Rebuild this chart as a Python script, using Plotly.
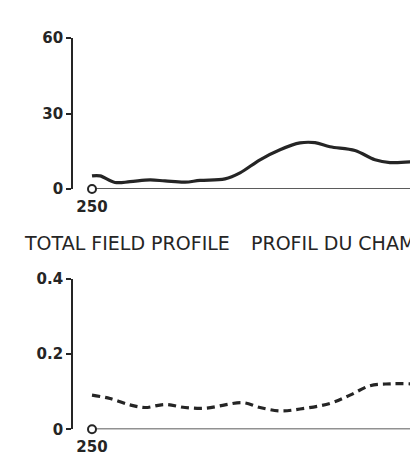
import plotly.graph_objects as go

# ---- data ----
fid_top = [250, 250.8, 252.3, 253.8, 255.8, 257.3, 259.3, 260.8, 263.3, 264.8,
           266.8, 268.8, 270.8, 272.3, 273.8, 276.3, 278.3, 279.8, 282.0]
field_top = [5.2, 5.2, 2.6, 2.9, 3.6, 3.2, 2.7, 3.4, 4.0, 6.4,
             11.6, 15.6, 18.3, 18.4, 16.8, 15.3, 11.6, 10.5, 10.8]

fid_bot = [250, 251.8, 253.8, 255.3, 257.3, 259.3, 261.3, 263.3, 265.1, 266.8,
           268.8, 270.8, 273.8, 275.8, 277.8, 279.8, 282.0]
field_bot = [0.091, 0.082, 0.065, 0.058, 0.066, 0.058, 0.056, 0.065, 0.071, 0.058,
             0.049, 0.054, 0.069, 0.091, 0.116, 0.121, 0.121]

start_fid = 250
base_x = [250, 283]
top_ticks = [0, 30, 60]
bot_ticks = [0, 0.2, 0.4]
bot_ticktext = ["0", "0.2", "0.4"]
title_en = "TOTAL FIELD PROFILE"
title_fr = "PROFIL DU CHAMP TOTAL"

INK = "#252525"
W, H = 410, 464

fig = go.Figure()

def add_panel(xs, ys, xa, ya, dash):
    fig.add_trace(go.Scatter(x=base_x, y=[0, 0], mode="lines",
                             line=dict(color=INK, width=1.6),
                             xaxis=xa, yaxis=ya, cliponaxis=False, hoverinfo="skip"))
    fig.add_trace(go.Scatter(x=[start_fid], y=[0], mode="markers",
                             marker=dict(symbol="circle", size=8, color="white",
                                         line=dict(color=INK, width=2)),
                             xaxis=xa, yaxis=ya, cliponaxis=False, hoverinfo="skip"))
    fig.add_trace(go.Scatter(x=xs, y=ys, mode="lines", line_shape="spline",
                             line=dict(color=INK, width=3.2, dash=dash),
                             xaxis=xa, yaxis=ya, cliponaxis=False))

add_panel(fid_top, field_top, "x", "y", "solid")
add_panel(fid_bot, field_bot, "x2", "y2", "8px,5px")

x_px0 = 73
px_per_unit = 10.0
x_range = [250 - (92 - 73) / px_per_unit, 250 + (410 - 92) / px_per_unit]

tickfont = dict(family="DejaVu Sans", size=15, color=INK, weight="bold")
xcommon = dict(range=x_range, showline=False, showgrid=False, zeroline=False,
               tickvals=[start_fid], ticktext=[str(start_fid)], ticks="",
               ticklabelstandoff=7, tickfont=tickfont, automargin=False)
ycommon = dict(showline=True, linecolor=INK, linewidth=1.6, showgrid=False,
               zeroline=False, ticks="outside", ticklen=5, tickwidth=1.6,
               tickcolor=INK, tickfont=tickfont, automargin=False)

def dom(top_px, bot_px):
    return [1 - bot_px / H, 1 - top_px / H]

fig.update_layout(
    width=W, height=H,
    margin=dict(l=0, r=0, t=0, b=0, autoexpand=False),
    paper_bgcolor="white", plot_bgcolor="rgba(0,0,0,0)",
    showlegend=False,
    xaxis=dict(domain=[x_px0 / W, 1], anchor="y", **xcommon),
    yaxis=dict(domain=dom(38, 189), anchor="x", range=[0, 60], tickvals=top_ticks, **ycommon),
    xaxis2=dict(domain=[x_px0 / W, 1], anchor="y2", **xcommon),
    yaxis2=dict(domain=dom(279, 429.3), anchor="x2", range=[0, 0.4], tickvals=bot_ticks,
                ticktext=bot_ticktext, **ycommon),
    annotations=[
        dict(text=title_en, x=22 / W, y=1 - 243 / H, xref="paper", yref="paper",
             xanchor="left", yanchor="middle", showarrow=False,
             font=dict(family="DejaVu Sans", size=19, color=INK)),
        dict(text=title_fr, x=249 / W, y=1 - 243 / H, xref="paper", yref="paper",
             xanchor="left", yanchor="middle", showarrow=False,
             font=dict(family="DejaVu Sans", size=19, color=INK)),
    ],
)

fig.write_html("out.html", config={"displayModeBar": False},
               post_script="document.body.style.margin='0';")
